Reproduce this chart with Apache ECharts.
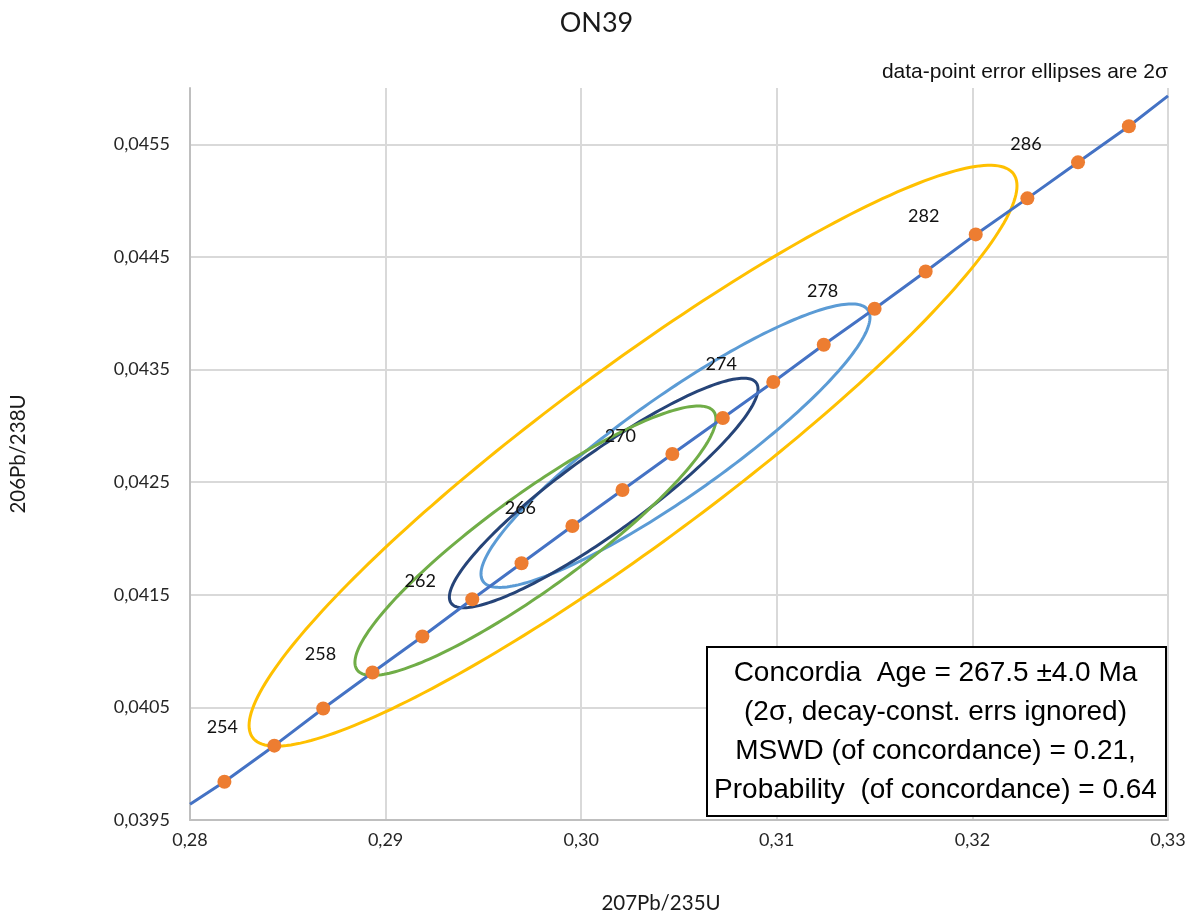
<!DOCTYPE html>
<html lang="en">
<head>
<meta charset="UTF-8">
<title>ON39</title>
<script src="https://cdn.jsdelivr.net/npm/echarts@6/dist/echarts.min.js"></script>
</head>
<body style="margin:0; background:#fff">
<div id="main" style="width:1193px;height:921px"></div>
<script>
// concordia age marks (Ma) with their 207Pb/235U and 206Pb/238U ratios
var ages = [252, 254, 256, 258, 260, 262, 264, 266, 268, 270, 272, 274, 276, 278, 280, 282, 284, 286, 288]
var ratio207 = [0.28176, 0.28431, 0.28681, 0.28933, 0.29188, 0.29443, 0.29695, 0.29955, 0.30211, 0.30466,
    0.30724, 0.30982, 0.31240, 0.31500, 0.31761, 0.32017, 0.32281, 0.32540, 0.32800]
var ratio206 = [0.03984, 0.04016, 0.04049, 0.04081, 0.04113, 0.04146, 0.04178, 0.04211, 0.04243, 0.04275,
    0.04307, 0.04339, 0.04372, 0.04404, 0.04437, 0.04470, 0.04502, 0.04534, 0.04566]
var labelledAges = [254, 258, 262, 266, 270, 274, 278, 282, 286]

// where the concordia curve meets the plot edges
var curveStart = [0.28, 0.03964]
var curveEnd = [0.33, 0.04593]

// data-point error ellipses (2 sigma): centre, half widths, correlation
var ellipseX = [0.30265, 0.30482, 0.30115, 0.29766]
var ellipseY = [0.042735, 0.042824, 0.042404, 0.04198]
var ellipseSX = [0.01963, 0.009944, 0.007889, 0.009228]
var ellipseSY = [0.002579, 0.0012585, 0.0010192, 0.0011965]
var ellipseRho = [0.929, 0.905, 0.907, 0.903]

var resultLines = [
    'Concordia  Age = 267.5 \u00b14.0 Ma',
    '(2\u03c3, decay-const. errs ignored)',
    'MSWD (of concordance) = 0.21,',
    'Probability  (of concordance) = 0.64'
]

var ellipseColors = ['#FFC000', '#5B9BD5', '#264478', '#70AD47']
var excelFont = 'Lato, "Noto Sans", sans-serif'
var arialFont = '"Liberation Sans", Arial, sans-serif'

var chart = echarts.init(document.getElementById('main'))

var curve = [curveStart]
var marks = []
ages.forEach(function (a, i) {
    curve.push([ratio207[i], ratio206[i]])
    marks.push([ratio207[i], ratio206[i], a])
})
curve.push(curveEnd)

var ellipses = ellipseX.map(function (x, i) {
    return [x, ellipseY[i], ellipseSX[i], ellipseSY[i], ellipseRho[i]]
})

function renderEllipse (params, api) {
    var cx = api.value(0), cy = api.value(1)
    var sx = api.value(2), sy = api.value(3), r = api.value(4)
    var k = Math.sqrt(1 - r * r)
    var pts = []
    for (var i = 0; i < 240; i++) {
        var t = i / 240 * Math.PI * 2
        pts.push(api.coord([cx + sx * Math.cos(t), cy + sy * (r * Math.cos(t) + k * Math.sin(t))]))
    }
    return {
        type: 'polygon',
        shape: { points: pts },
        style: { fill: 'none', stroke: ellipseColors[params.dataIndex], lineWidth: 3 }
    }
}

var option = {
    animation: false,
    title: {
        text: 'ON39',
        left: 'center',
        top: 5,
        textStyle: { fontFamily: excelFont, fontSize: 27, fontWeight: 'normal', color: '#1a1a1a' }
    },
    grid: { left: 190, right: 25, top: 88, bottom: 101 },
    xAxis: {
        type: 'value',
        min: 0.28,
        max: 0.33,
        interval: 0.01,
        name: '207Pb/235U',
        nameLocation: 'middle',
        nameGap: 73,
        nameTextStyle: { fontFamily: excelFont, fontSize: 20.5, color: '#1a1a1a', padding: [0, 36, 0, 0] },
        axisLine: { lineStyle: { color: '#bfbfbf', width: 2 } },
        axisTick: { show: false },
        axisLabel: {
            margin: 11,
            fontFamily: excelFont, fontSize: 18, color: '#262626',
            formatter: function (v) { return v.toFixed(2).replace('.', ',') }
        },
        splitLine: { show: true, lineStyle: { color: '#d9d9d9', width: 2 } }
    },
    yAxis: {
        type: 'value',
        min: 0.0395,
        max: 0.046,
        interval: 0.001,
        name: '206Pb/238U',
        nameLocation: 'middle',
        nameRotate: 90,
        nameGap: 161,
        nameTextStyle: { fontFamily: excelFont, fontSize: 20.5, color: '#1a1a1a' },
        axisLine: { show: true, lineStyle: { color: '#bfbfbf', width: 2 } },
        axisTick: { show: false },
        axisLabel: {
            margin: 20,
            showMaxLabel: false,
            fontFamily: excelFont, fontSize: 18, color: '#262626',
            formatter: function (v) { return v.toFixed(4).replace('.', ',') }
        },
        splitLine: { show: true, showMaxLine: false, lineStyle: { color: '#d9d9d9', width: 2 } }
    },
    series: [
        {
            type: 'custom',
            z: 2,
            data: ellipses,
            encode: { x: 0, y: 1 },
            renderItem: renderEllipse,
            silent: true
        },
        {
            type: 'line',
            z: 3,
            data: curve,
            showSymbol: false,
            lineStyle: { color: '#4472C4', width: 3 },
            silent: true
        },
        {
            type: 'scatter',
            z: 4,
            data: marks,
            symbolSize: 14,
            itemStyle: { color: '#ED7D31', opacity: 1 },
            label: {
                show: true,
                position: 'inside',
                offset: [-52, -18],
                fontFamily: excelFont,
                fontSize: 18,
                color: '#111',
                formatter: function (p) {
                    return labelledAges.indexOf(p.value[2]) >= 0 ? String(p.value[2]) : ''
                }
            }
        }
    ],
    graphic: [
        {
            type: 'text',
            right: 25,
            top: 62,
            style: { text: 'data-point error ellipses are 2\u03c3', font: '21px ' + arialFont, fill: '#111' }
        },
        {
            type: 'rect',
            left: 706,
            top: 646,
            z: 10,
            shape: { width: 459, height: 169 },
            style: { fill: '#fff', stroke: '#000', lineWidth: 2 }
        },
        {
            type: 'text',
            x: 935.5,
            y: 732,
            z: 11,
            style: {
                text: resultLines.join('\n'),
                font: '28px ' + arialFont,
                lineHeight: 39,
                align: 'center',
                verticalAlign: 'middle',
                fill: '#000'
            }
        }
    ]
}

chart.setOption(option)
</script>
</body>
</html>
